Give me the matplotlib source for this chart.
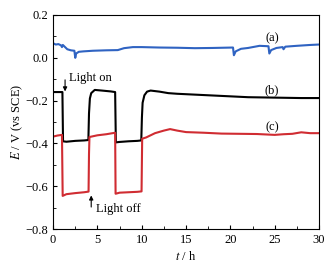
import numpy as np
import matplotlib.pyplot as plt
from matplotlib.ticker import MultipleLocator

plt.rcParams['font.family'] = ['Liberation Serif', 'DejaVu Serif']
plt.rcParams['mathtext.fontset'] = 'stix'

# (a) blue curve
t_a = [0, 0.3, 0.6, 0.9, 1.0, 1.1, 1.3, 1.6, 2.0, 2.4, 2.5, 2.6, 2.9, 3.4, 4.5, 6.0, 7.3,
       8.0, 9.0, 10.0, 12.0, 14.0, 16.0, 18.0, 20.3, 20.4, 20.6, 21.2, 22.0, 23.3,
       24.3, 24.4, 24.6, 25.2, 25.9, 26.0, 26.2, 27.5, 29.0, 30.0]
e_a = [0.068, 0.062, 0.064, 0.058, 0.050, 0.060, 0.052, 0.040, 0.035, 0.033, 0.000, 0.020,
       0.028, 0.030, 0.033, 0.035, 0.036, 0.045, 0.050, 0.050, 0.048, 0.047, 0.045, 0.046,
       0.048, 0.012, 0.030, 0.042, 0.046, 0.056, 0.054, 0.020, 0.036, 0.046, 0.050, 0.040,
       0.052, 0.056, 0.060, 0.062]

# (b) black curve
t_b = [0, 0.5, 1.05, 1.12, 1.5, 2.5, 3.5, 3.98, 4.05, 4.15, 4.3, 4.7, 5.5, 6.5, 7.0,
       7.08, 7.5, 8.5, 9.5, 9.95, 10.02, 10.1, 10.3, 10.6, 11.0, 12.0, 13.0, 14.0,
       16.0, 18.0, 20.0, 22.0, 25.0, 28.0, 30.0]
e_b = [-0.160, -0.160, -0.160, -0.390, -0.392, -0.388, -0.386, -0.384, -0.260, -0.190,
       -0.165, -0.150, -0.153, -0.157, -0.160, -0.395, -0.393, -0.390, -0.388, -0.386,
       -0.280, -0.210, -0.175, -0.158, -0.153, -0.158, -0.165, -0.168, -0.172, -0.176,
       -0.180, -0.184, -0.186, -0.188, -0.188]

# (c) red curve
t_c = [0, 0.5, 1.0, 1.08, 1.5, 2.5, 3.5, 4.0, 4.05, 4.1, 5.0, 6.0, 7.0, 7.05, 7.5,
       8.5, 9.5, 9.98, 10.05, 10.5, 11.5, 12.5, 13.2, 14.0, 15.0, 17.0, 19.0, 21.0,
       23.0, 25.0, 26.0, 27.0, 28.0, 29.0, 30.0]
e_c = [-0.368, -0.363, -0.360, -0.645, -0.637, -0.632, -0.628, -0.625, -0.450, -0.370,
       -0.362, -0.357, -0.350, -0.635, -0.630, -0.628, -0.626, -0.624, -0.378, -0.372,
       -0.352, -0.340, -0.333, -0.340, -0.347, -0.350, -0.354, -0.355, -0.356, -0.360,
       -0.357, -0.355, -0.348, -0.352, -0.352]

fs = 9

fig = plt.figure(figsize=(3.34, 2.63), dpi=100)
ax = fig.add_axes([0.159, 0.129, 0.796, 0.814])

ax.plot(t_a, e_a, color='#2f63c2', lw=1.5)
ax.plot(t_b, e_b, color='black', lw=1.5)
ax.plot(t_c, e_c, color='#d02c32', lw=1.5)

ax.set_xlim(0, 30)
ax.set_ylim(-0.8, 0.2)
ax.xaxis.set_major_locator(MultipleLocator(5))
ax.xaxis.set_minor_locator(MultipleLocator(2.5))
ax.yaxis.set_major_locator(MultipleLocator(0.2))
ax.yaxis.set_minor_locator(MultipleLocator(0.1))
ax.tick_params(which='both', direction='in', labelsize=fs)
ax.tick_params(which='major', length=3)
ax.tick_params(which='minor', length=2)
ax.yaxis.set_major_formatter(plt.FuncFormatter(lambda v, p: f'{v:.1f}'.replace('-', '\u2212')))

ax.set_xlabel('$\\mathit{t}$ / h', fontsize=fs, labelpad=3)
ax.set_ylabel('$\\mathit{E}$ / V (vs SCE)', fontsize=fs, labelpad=0)

ax.text(24.7, 0.09, '(a)', fontsize=fs, ha='center', va='center')
ax.text(24.7, -0.15, '(b)', fontsize=fs, ha='center', va='center')
ax.text(24.7, -0.323, '(c)', fontsize=fs, ha='center', va='center')

ax.annotate('', xy=(1.35, -0.17), xytext=(1.35, -0.09),
            arrowprops=dict(arrowstyle='-|>', color='black', lw=0.8, mutation_scale=6))
ax.text(1.75, -0.093, 'Light on', fontsize=fs, ha='left', va='center')
ax.annotate('', xy=(4.3, -0.63), xytext=(4.3, -0.71),
            arrowprops=dict(arrowstyle='-|>', color='black', lw=0.8, mutation_scale=6))
ax.text(4.85, -0.705, 'Light off', fontsize=fs, ha='left', va='center')

fig.savefig('out.png', dpi=100)
